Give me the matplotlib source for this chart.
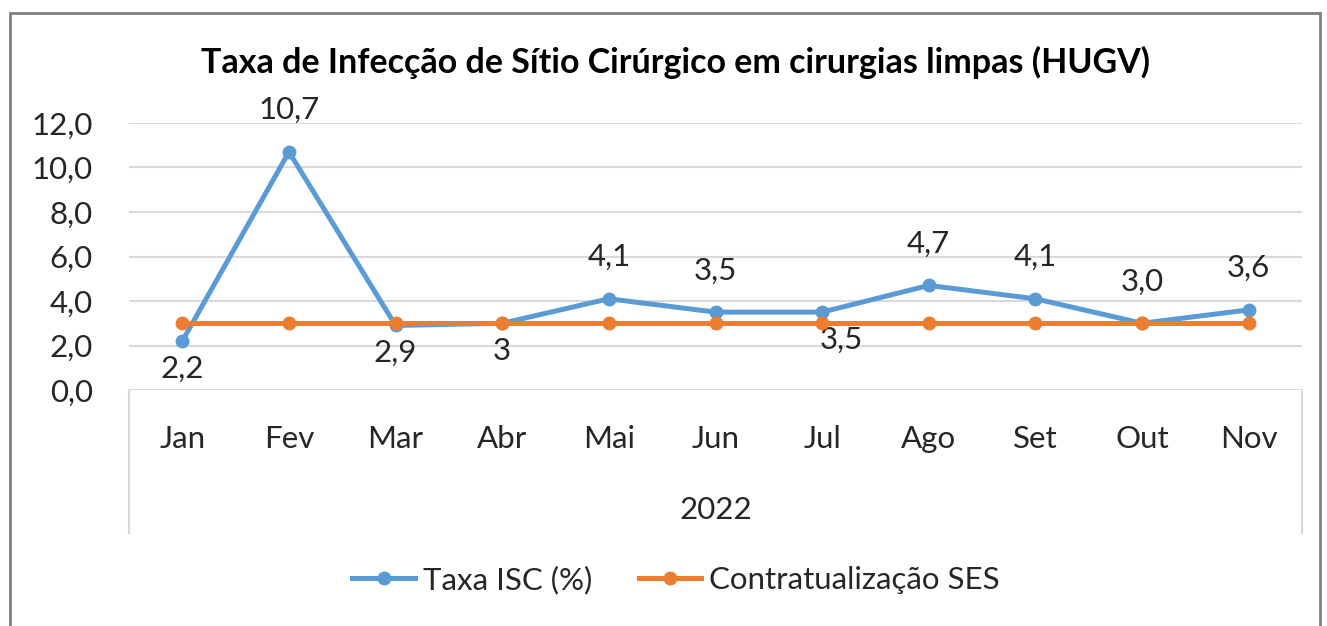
import matplotlib.pyplot as plt
from matplotlib.patches import Rectangle
from matplotlib.lines import Line2D

plt.rcParams['font.family'] = ['Lato', 'DejaVu Sans']

# dados
meses = ['Jan', 'Fev', 'Mar', 'Abr', 'Mai', 'Jun', 'Jul', 'Ago', 'Set', 'Out', 'Nov']
taxa_isc = [2.2, 10.7, 2.9, 3.0, 4.1, 3.5, 3.5, 4.7, 4.1, 3.0, 3.6]
rotulos_isc = ['2,2', '10,7', '2,9', '3', '4,1', '3,5', '3,5', '4,7', '4,1', '3,0', '3,6']
contratualizacao = [3.0] * len(meses)
ano = '2022'

# posicao dos rotulos (acima / abaixo)
lado = ['b', 'a', 'b', 'b', 'a', 'a', 'b', 'a', 'a', 'a', 'a']

azul = '#5B9BD5'
laranja = '#ED7D31'
cinza = '#D9D9D9'
fs = 22.5

W, H = 1327, 626
fig = plt.figure(figsize=(W / 100, H / 100), dpi=100)

# moldura externa
fig.patches.append(Rectangle((10 / W, -0.05), (1320 - 10) / W, (H - 13) / H + 0.05,
                             transform=fig.transFigure, fill=False,
                             edgecolor='#7F7F7F', lw=2))

x0, x1, y0, y1 = 129, 1302, 390, 123
ax = fig.add_axes([x0 / W, (H - y0) / H, (x1 - x0) / W, (y0 - y1) / H])
ax.set_xlim(-0.5, len(meses) - 0.5)
ax.set_ylim(0, 12)

for s in ax.spines.values():
    s.set_visible(False)

yt = [0, 2, 4, 6, 8, 10, 12]
for v in yt:
    ax.axhline(v, color=cinza, lw=1.5, zorder=0)
ax.set_yticks(yt)
ax.set_yticklabels([f'{v:.1f}'.replace('.', ',') for v in yt], fontsize=fs, color='#262626')
ax.set_xticks(range(len(meses)))
ax.set_xticklabels(meses, fontsize=fs, color='#262626')
ax.tick_params(axis='y', length=0, pad=26)
ax.tick_params(axis='x', length=0, pad=25)

# linhas verticais do eixo de categorias
baixo = -(533 - y0) / (y0 - y1)
for xx in (0, 1):
    ax.plot([xx, xx], [0, baixo], transform=ax.transAxes, color=cinza, lw=1.5, clip_on=False)
ax.text(0.5, -(510 - y0) / (y0 - y1), ano, transform=ax.transAxes, ha='center', va='center',
        fontsize=fs, color='#262626')

xs = list(range(len(meses)))
ax.plot(xs, taxa_isc, color=azul, lw=3.6, marker='o', ms=9, zorder=3)
ax.plot(xs, contratualizacao, color=laranja, lw=3.6, marker='o', ms=9, zorder=4)

for i, (v, r, l) in enumerate(zip(taxa_isc, rotulos_isc, lado)):
    dx = 14 if meses[i] == 'Jul' else 0
    dy = 30 if l == 'a' else -20
    ax.annotate(r, (i, v), xytext=(dx, dy), textcoords='offset points', ha='center', va='center',
                fontsize=fs, color='#262626', annotation_clip=False)

fig.text(675 / W, (H - 62) / H, 'Taxa de Infecção de Sítio Cirúrgico em cirurgias limpas (HUGV)',
         ha='center', va='center', fontsize=24.5, fontweight='bold', color='#000000')

handles = [Line2D([], [], color=azul, lw=3.6, marker='o', ms=9),
           Line2D([], [], color=laranja, lw=3.6, marker='o', ms=9)]
fig.legend(handles, ['Taxa ISC (%)', 'Contratualização SES'], loc='center',
           bbox_to_anchor=(676 / W, (H - 580) / H), ncol=2, frameon=False, fontsize=fs,
           handlelength=2.0, handletextpad=0.25, columnspacing=1.5, labelcolor='#262626')

fig.savefig('out.png', dpi=100)
